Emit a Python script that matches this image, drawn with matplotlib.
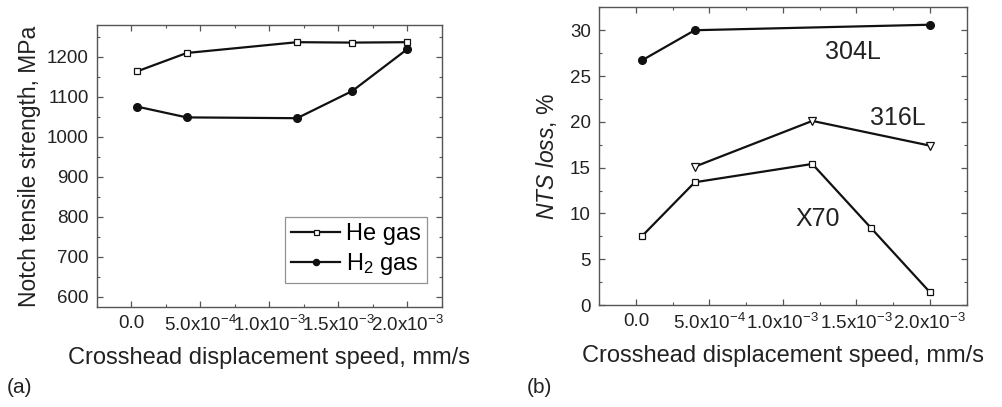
import matplotlib as mpl
mpl.use("Agg")
import matplotlib.pyplot as plt
from matplotlib.ticker import FixedLocator, MultipleLocator, FixedFormatter

mpl.rcParams.update({
    "font.family": ["Liberation Sans", "DejaVu Sans"],
    "mathtext.fontset": "custom",
    "mathtext.rm": "Liberation Sans",
    "mathtext.it": "Liberation Sans:italic",
    "mathtext.bf": "Liberation Sans:bold",
    "xtick.direction": "in",
    "ytick.direction": "in",
    "xtick.top": True,
    "ytick.right": True,
    "axes.linewidth": 1.0,
})

# --- data ---
speed = [4e-5, 4e-4, 1.2e-3, 1.6e-3, 2.0e-3]
he_gas = [1164, 1210, 1237, 1236, 1237]
h2_gas = [1076, 1049, 1047, 1115, 1220]

speed_304 = [4e-5, 4e-4, 2.0e-3]
loss_304 = [26.7, 30.0, 30.6]
speed_316 = [4e-4, 1.2e-3, 2.0e-3]
loss_316 = [15.1, 20.1, 17.4]
speed_x70 = [4e-5, 4e-4, 1.2e-3, 1.6e-3, 2.0e-3]
loss_x70 = [7.5, 13.4, 15.4, 8.4, 1.4]

xticks = [0.0, 5e-4, 1e-3, 1.5e-3, 2e-3]
xticklabels = ["0.0", r"5.0x10$^{-4}$", r"1.0x10$^{-3}$",
               r"1.5x10$^{-3}$", r"2.0x10$^{-3}$"]

INK = "#222222"
FRAME = "#555555"

fig = plt.figure(figsize=(10.02, 4.07), dpi=100, facecolor="white")
ax1 = fig.add_axes([0.0968, 0.2457, 0.3443, 0.6929])
ax2 = fig.add_axes([0.598, 0.2506, 0.3667, 0.7314])


def style(ax):
    ax.set_xlim(-2.5e-4, 2.25e-3)
    ax.xaxis.set_major_locator(FixedLocator(xticks))
    ax.xaxis.set_major_formatter(FixedFormatter(xticklabels))
    ax.xaxis.set_minor_locator(MultipleLocator(2.5e-4))
    ax.tick_params(which="major", length=4, width=0.9, color=FRAME,
                   labelsize=13.5, labelcolor=INK, pad=6)
    ax.tick_params(which="minor", length=2.5, width=0.8, color=FRAME)
    for s in ax.spines.values():
        s.set_color(FRAME)


line_kw = dict(color="#111111", lw=1.6)

# (a) notch tensile strength
ax1.plot(speed, he_gas, marker="s", ms=4.5, mfc="white", mec="#111111",
         mew=0.9, label="He gas", **line_kw)
ax1.plot(speed, h2_gas, marker="o", ms=5.5, mfc="#111111", mec="#111111",
         label=r"H$_2$ gas", **line_kw)
style(ax1)
ax1.set_ylim(575, 1280)
ax1.yaxis.set_major_locator(MultipleLocator(100))
ax1.yaxis.set_minor_locator(MultipleLocator(50))
ax1.set_ylabel("Notch tensile strength, MPa", fontsize=16.5, color=INK,
               labelpad=4)
ax1.set_xlabel("Crosshead displacement speed, mm/s", fontsize=17,
               color=INK, labelpad=8)
leg = ax1.legend(loc="lower right", bbox_to_anchor=(0.957, 0.085),
                 fontsize=17, frameon=True, fancybox=False,
                 edgecolor="#777777", handlelength=2.1, handletextpad=0.25,
                 borderpad=0.25, labelspacing=0.25, borderaxespad=0.0,
                 markerscale=0.8)
leg.get_frame().set_linewidth(0.9)

# (b) NTS loss
ax2.plot(speed_304, loss_304, marker="o", ms=5.5, mfc="#111111",
         mec="#111111", **line_kw)
ax2.plot(speed_316, loss_316, marker="v", ms=6, mfc="white",
         mec="#111111", mew=0.9, **line_kw)
ax2.plot(speed_x70, loss_x70, marker="s", ms=4.5, mfc="white",
         mec="#111111", mew=0.9, **line_kw)
style(ax2)
ax2.set_ylim(0, 32.5)
ax2.yaxis.set_major_locator(MultipleLocator(5))
ax2.yaxis.set_minor_locator(MultipleLocator(2.5))
ax2.set_ylabel(r"$NTS$ $loss$, %", fontsize=16.5, color=INK, labelpad=8)
ax2.set_xlabel("Crosshead displacement speed, mm/s", fontsize=17,
               color=INK, labelpad=8)

ax2.text(1.475e-3, 27.6, "304L", fontsize=18, color=INK,
         ha="center", va="center")
ax2.text(1.78e-3, 20.4, "316L", fontsize=18, color=INK,
         ha="center", va="center")
ax2.text(1.24e-3, 9.35, "X70", fontsize=18, color=INK,
         ha="center", va="center")

fig.text(0.007, 0.047, "(a)", fontsize=15, color=INK, ha="left", va="center")
fig.text(0.526, 0.047, "(b)", fontsize=15, color=INK, ha="left", va="center")

fig.savefig("out.png", dpi=100, facecolor="white")
